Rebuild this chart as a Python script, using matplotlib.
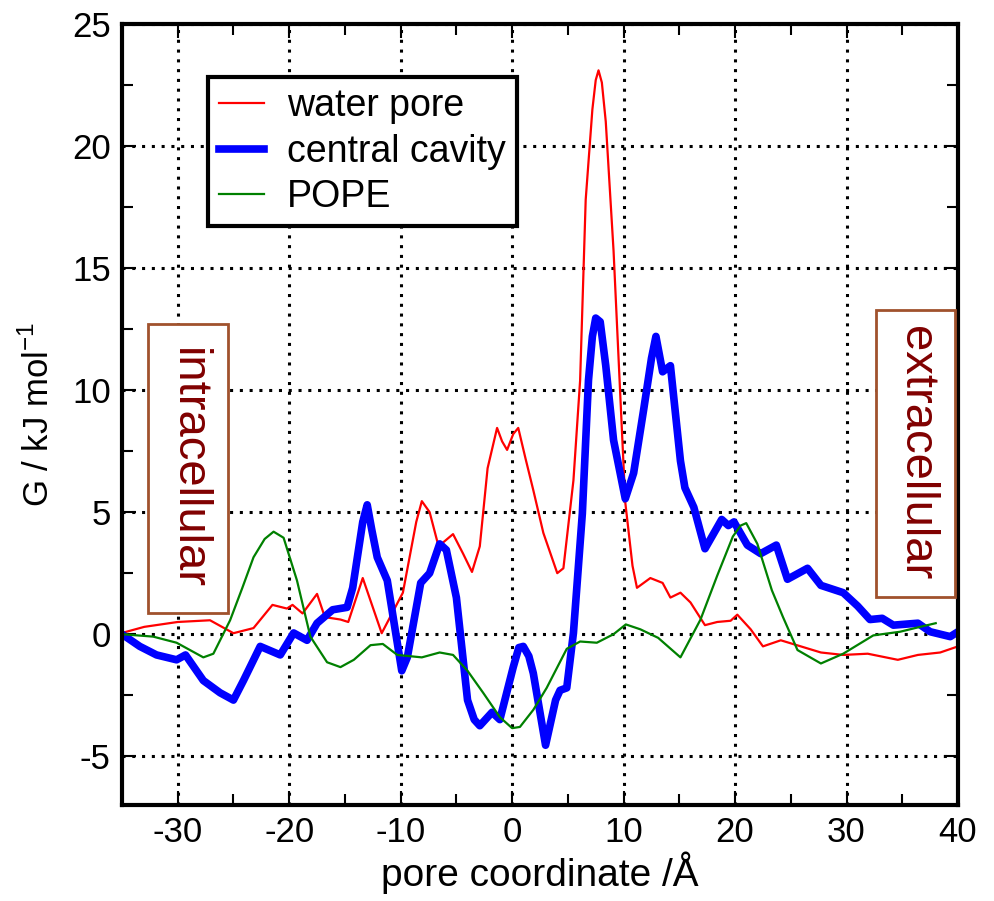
import matplotlib
matplotlib.use("Agg")
import matplotlib.pyplot as plt
from matplotlib.patches import Rectangle
from matplotlib.ticker import MultipleLocator

plt.rcParams['font.family'] = ['Liberation Sans', 'DejaVu Sans']
plt.rcParams['axes.unicode_minus'] = False

# free energy profiles along the pore axis
red_x = [-35, -33, -30, -27.1, -25, -23.2, -21.5, -20.2, -19.7, -18.8, -17.5, -16.8, -15.4,
         -14.7, -13.4, -11.7, -9.8, -8.6, -8.1, -7.4, -6.6, -5.3, -4.4, -3.6, -2.9, -2.2,
         -1.35, -0.9, -0.45, 0.1, 0.55, 1.2, 1.9, 2.8, 4.05, 4.6, 5.5, 6.1, 6.6, 7.2, 7.5,
         7.75, 8.05, 8.4, 9.1, 10.15, 10.8, 11.2, 12.4, 13.5, 14.2, 15.1, 16.0, 17.3, 18.4,
         19.6, 20.2, 21.4, 22.5, 24.1, 25.9, 27.7, 29.7, 31.9, 34.6, 36.4, 38.4, 40]
red_y = [0.05, 0.3, 0.5, 0.57, 0.04, 0.25, 1.2, 1.05, 1.2, 0.85, 1.65, 0.7, 0.6,
         0.5, 2.3, 0.04, 1.7, 4.6, 5.45, 5.0, 3.6, 4.1, 3.3, 2.55, 3.6, 6.8,
         8.45, 7.9, 7.55, 8.2, 8.45, 7.2, 5.9, 4.15, 2.5, 2.7, 6.3, 10.4, 17.8, 21.5, 22.7,
         23.1, 22.6, 21.0, 15.7, 5.4, 2.8, 1.9, 2.3, 2.1, 1.5, 1.7, 1.3, 0.37, 0.5,
         0.55, 0.8, 0.2, -0.5, -0.25, -0.5, -0.75, -0.85, -0.8, -1.05, -0.85, -0.75, -0.5]

blue_x = [-35, -33.4, -31.9, -30.1, -29.3, -27.7, -26.2, -25.0, -24.1, -22.6, -20.8, -19.6,
          -18.4, -17.5, -16.1, -14.8, -14.3, -13.4, -13.0, -12.6, -12.1, -11.2, -9.9, -9.4,
          -8.2, -7.4, -6.5, -5.9, -5.0, -4.0, -3.4, -2.9, -1.8, -1.1, 0.1, 0.6, 1.0, 1.5,
          1.9, 3.0, 3.9, 4.3, 4.9, 5.5, 6.3, 6.85, 7.2, 7.5, 7.9, 8.4, 9.1, 10.15, 10.9,
          11.8, 12.5, 12.9, 13.5, 14.2, 15.1, 15.5, 16.3, 17.3, 18.8, 19.4, 19.9, 21.1,
          22.3, 23.7, 24.7, 26.5, 27.7, 29.7, 31.0, 32.1, 33.2, 34.2, 36.4, 37.5, 39.3, 40]
blue_y = [0, -0.5, -0.85, -1.05, -0.85, -1.9, -2.4, -2.7, -1.9, -0.5, -0.85, 0.05,
          -0.25, 0.45, 1.0, 1.1, 1.9, 4.6, 5.3, 4.3, 3.15, 2.2, -1.5, -0.95,
          2.1, 2.5, 3.7, 3.45, 1.5, -2.7, -3.5, -3.75, -3.2, -3.5, -1.35, -0.55, -0.5, -0.9,
          -1.6, -4.55, -2.7, -2.3, -2.2, 0.05, 4.95, 10.4, 12.2, 12.95, 12.8, 11.0, 7.95, 5.55, 6.6,
          9.2, 11.3, 12.2, 10.75, 11.0, 7.1, 6.0, 5.2, 3.5, 4.7, 4.45, 4.6, 3.65,
          3.3, 3.65, 2.25, 2.7, 2.0, 1.7, 1.15, 0.6, 0.65, 0.37, 0.45, 0.1, -0.1, 0.1]

green_x = [-35, -32.2, -30.1, -27.7, -26.8, -25.3, -24.2, -23.2, -22.2, -21.4, -20.5, -19.3,
           -18.1, -16.6, -15.4, -14.2, -12.7, -11.6, -10.3, -8.1, -6.5, -5.3, -4.0, -2.6,
           -1.1, 0, 0.7, 1.9, 3.1, 4.9, 6.1, 7.6, 9.1, 10.2, 11.5, 13.1, 15.1, 16.9, 18.4,
           19.8, 20.5, 21.0, 22.0, 23.3, 24.3, 25.6, 27.7, 29.7, 32.4, 34.8, 36.6, 38.0]
green_y = [0, -0.1, -0.35, -0.95, -0.8, 0.57, 1.9, 3.15, 3.9, 4.2, 3.95, 2.2,
           -0.1, -1.15, -1.35, -1.05, -0.45, -0.4, -0.85, -0.95, -0.75, -0.85, -1.5, -2.4,
           -3.4, -3.85, -3.8, -3.1, -2.2, -0.6, -0.3, -0.35, 0.0, 0.4, 0.2, -0.15, -0.95, 0.6, 2.4,
           4.0, 4.45, 4.55, 3.7, 1.8, 0.7, -0.65, -1.2, -0.8, -0.05, 0.1, 0.3, 0.45]

fig = plt.figure(figsize=(9.94, 9.01), dpi=100)
ax = fig.add_axes([0.1227, 0.1065, 0.8411, 0.8669])

ax.plot(red_x, red_y, color='#ff0000', lw=1.6, label='water pore')
ax.plot(blue_x, blue_y, color='#0000ff', lw=5.5, label='central cavity')
ax.plot(green_x, green_y, color='#008000', lw=1.6, label='POPE')

ax.set_xlim(-35, 40)
ax.set_ylim(-7, 25)
ax.xaxis.set_major_locator(MultipleLocator(10))
ax.xaxis.set_minor_locator(MultipleLocator(5))
ax.yaxis.set_major_locator(MultipleLocator(5))
ax.yaxis.set_minor_locator(MultipleLocator(2.5))
ax.grid(True, which='major', color='black', ls=(0, (1, 2.2)), lw=2.2)
ax.tick_params(which='both', direction='in', top=True, right=True, width=1.5,
               labelsize=25, pad=8)
ax.tick_params(which='major', length=10)
ax.tick_params(which='minor', length=8)
for sp in ax.spines.values():
    sp.set_linewidth(3)

ax.set_xlabel('pore coordinate /Å', fontsize=28, labelpad=2)
ax.set_ylabel('G / kJ mol$^{\\mathregular{-1}}$', fontsize=25, labelpad=12)

leg = ax.legend(loc='upper left', bbox_to_anchor=(0.103, 0.932), borderaxespad=0,
                fontsize=27, fancybox=False, framealpha=1, edgecolor='black',
                handlelength=1.2, handletextpad=0.6, labelspacing=0.25,
                borderpad=0.3)
leg.get_frame().set_linewidth(3)

# side labels for the two membrane faces
for x0, w, y0, h, txt in [(0.0311, 0.0957, 0.2458, 0.370, 'intracellular'),
                          (0.902, 0.0945, 0.2663, 0.3675, 'extracellular')]:
    ax.add_patch(Rectangle((x0, y0), w, h, transform=ax.transAxes, facecolor='white',
                           edgecolor='#a0522d', lw=2, zorder=5))
    ax.text(x0 + w / 2, y0 + h / 2, txt, transform=ax.transAxes, rotation=-90,
            ha='center', va='center', fontsize=34, color='#800000', zorder=6)

fig.savefig('out.png', dpi=100)
